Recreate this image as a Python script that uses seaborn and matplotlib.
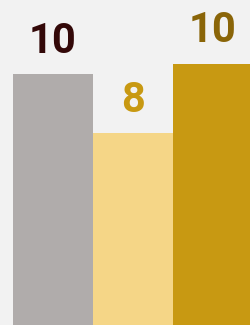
import pandas as pd
import matplotlib
matplotlib.use("Agg")
import matplotlib.pyplot as plt
import seaborn as sns

# values (labels show rounded numbers)
categories = ["A", "B", "C"]
values = [10.0, 7.65, 10.4]
bar_colors = ["#b0acab", "#f5d687", "#c89912"]
label_colors = ["#330808", "#c89912", "#8a6508"]

df = pd.DataFrame({"category": categories, "value": values})

sns.set_style("white")
plt.rcParams["font.family"] = ["Roboto", "DejaVu Sans"]

fig = plt.figure(figsize=(2.5, 3.25), dpi=100)
fig.patch.set_facecolor("#f2f2f2")
ax = fig.add_axes([0, 0, 1, 1])
ax.set_facecolor("#f2f2f2")

sns.barplot(data=df, x="category", y="value", hue="category",
            palette=bar_colors, saturation=1, width=1, linewidth=0,
            legend=False, ax=ax)

for cont, col in zip(ax.containers, label_colors):
    ax.bar_label(cont, labels=[f"{v:.0f}" for v in cont.datavalues],
                 padding=9, fontsize=30, fontweight="bold", color=col)

ax.set_xlim(-0.6625, 2.4625)
ax.set_ylim(0, 12.95)
ax.axis("off")

fig.savefig("out.png", dpi=100, facecolor=fig.get_facecolor())
